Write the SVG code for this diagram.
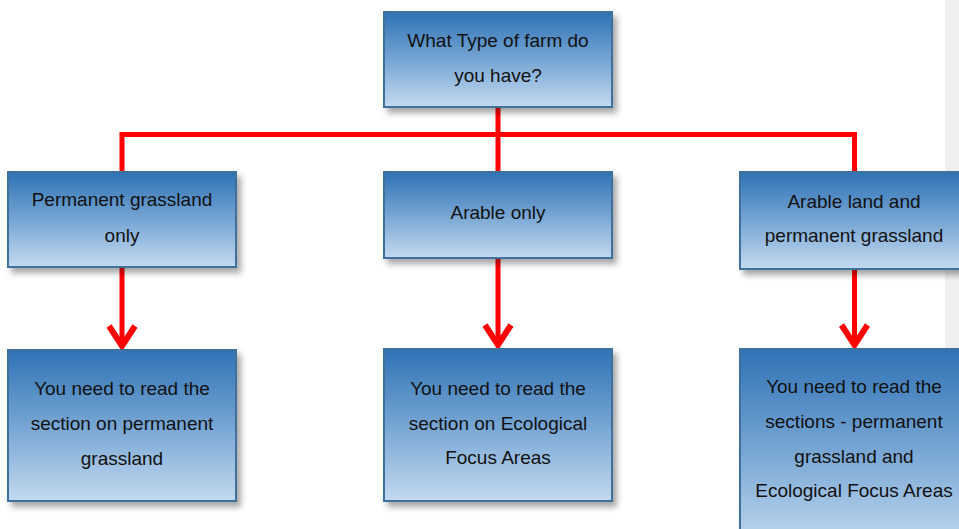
<svg xmlns="http://www.w3.org/2000/svg" width="959" height="529" viewBox="0 0 959 529">
<defs>
<linearGradient id="g" x1="0" y1="0" x2="0" y2="1">
<stop offset="0" stop-color="#2f72b5"/>
<stop offset="0.5" stop-color="#76a5d3"/>
<stop offset="1" stop-color="#c3daf0"/>
</linearGradient>
<filter id="sh" x="-10%" y="-10%" width="125%" height="130%">
<feDropShadow dx="4" dy="5" stdDeviation="3" flood-color="#000" flood-opacity="0.35"/>
</filter>
<marker id="arr" viewBox="0 0 28 32" refX="24" refY="16" markerWidth="28" markerHeight="32" markerUnits="userSpaceOnUse" orient="auto">
<path d="M4,3 L24,16 L4,29" fill="none" stroke="#ff0000" stroke-width="6" stroke-linejoin="miter"/>
</marker>
</defs>
<style>
.box{fill:url(#g);stroke:#41719c;stroke-width:2;filter:url(#sh)}
.t{font-family:"Liberation Sans","Open Sans",sans-serif;font-size:19px;fill:#111;text-anchor:middle}
.c{fill:none;stroke:#ff0000;stroke-width:5}
</style>
<rect x="945" y="0" width="14" height="529" fill="#f0f0f0"/>
<g id="connectors">
<polyline class="c" points="122,172 122,134.5 854.5,134.5 854.5,172"/>
<line class="c" x1="498" y1="107" x2="498" y2="172"/>
<line class="c" x1="122" y1="267" x2="122" y2="346" marker-end="url(#arr)"/>
<line class="c" x1="498" y1="258" x2="498" y2="345" marker-end="url(#arr)"/>
<line class="c" x1="854.5" y1="269" x2="854.5" y2="345" marker-end="url(#arr)"/>
</g>
<g id="n0">
<rect class="box" x="384" y="12" width="228" height="95"/>
<text class="t" x="498" y="47">What Type of farm do</text>
<text class="t" x="498" y="82">you have?</text>
</g>
<g id="n1">
<rect class="box" x="8" y="172" width="228" height="95"/>
<text class="t" x="122" y="206">Permanent grassland</text>
<text class="t" x="122" y="242">only</text>
</g>
<g id="n2">
<rect class="box" x="384" y="172" width="228" height="86"/>
<text class="t" x="498" y="219">Arable only</text>
</g>
<g id="n3">
<rect class="box" x="740" y="172" width="228" height="97"/>
<text class="t" x="854" y="208">Arable land and</text>
<text class="t" x="854" y="242">permanent grassland</text>
</g>
<g id="n4">
<rect class="box" x="8" y="350" width="228" height="151"/>
<text class="t" x="122" y="395">You need to read the</text>
<text class="t" x="122" y="430">section on permanent</text>
<text class="t" x="122" y="465">grassland</text>
</g>
<g id="n5">
<rect class="box" x="384" y="349" width="228" height="152"/>
<text class="t" x="498" y="395">You need to read the</text>
<text class="t" x="498" y="430">section on Ecological</text>
<text class="t" x="498" y="464">Focus Areas</text>
</g>
<g id="n6">
<rect class="box" x="740" y="349" width="228" height="200"/>
<text class="t" x="854" y="393">You need to read the</text>
<text class="t" x="854" y="428">sections - permanent</text>
<text class="t" x="854" y="463">grassland and</text>
<text class="t" x="854" y="497">Ecological Focus Areas</text>
</g>
</svg>
